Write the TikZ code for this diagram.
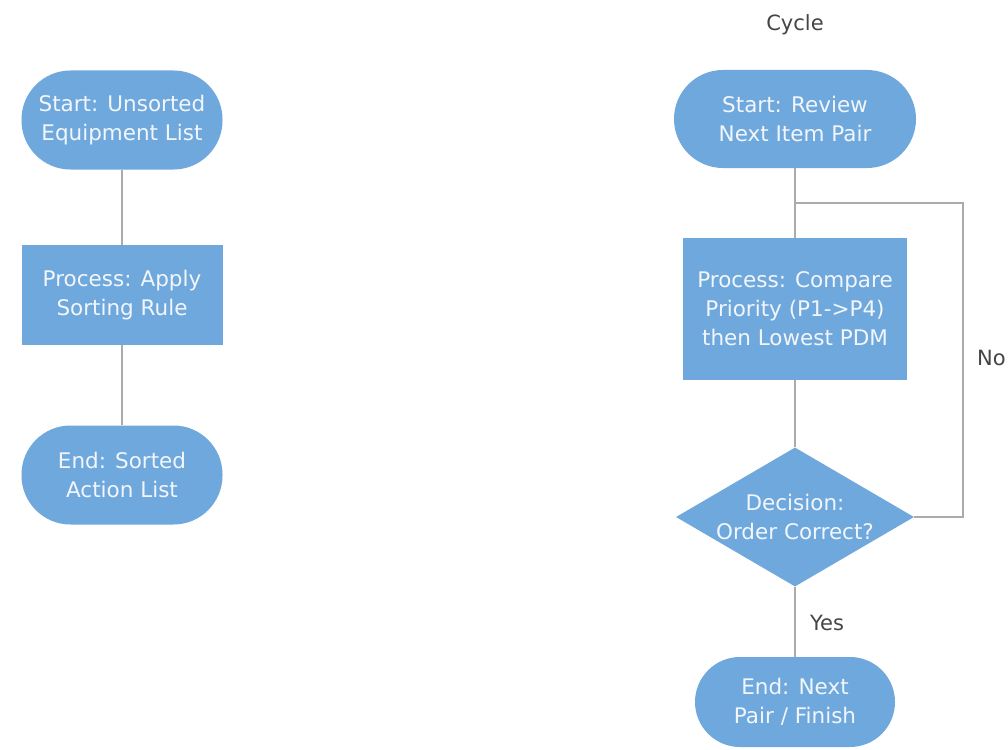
\documentclass[tikz,border=0pt]{standalone}
\usepackage{xcolor}
\usepackage{fontspec}
\setmainfont{DejaVu Sans}
\usepackage{tikz}
\usetikzlibrary{shapes.geometric}

\definecolor{boxblue}{HTML}{6FA8DC}
\definecolor{boxtext}{HTML}{F2F6FB}
\definecolor{linegray}{HTML}{ABABAB}
\definecolor{labelgray}{HTML}{454545}

\begin{document}
\begin{tikzpicture}[x=1pt,y=-1pt,
  shapebox/.style={fill=boxblue,draw=none,text=boxtext,align=center,inner sep=0pt,
    font=\fontsize{21.5}{29}\selectfont},
  termbox/.style={shapebox,rectangle,rounded corners=#1},
  procbox/.style={shapebox,rectangle},
  decbox/.style={shapebox,diamond,aspect=1.71},
  flowline/.style={draw=linegray,line width=1.5pt},
  plainlabel/.style={text=labelgray,font=\fontsize{21}{29}\selectfont,inner sep=0pt}]
\useasboundingbox[fill=white] (0,0) rectangle (1008,749);
% left column
\node[termbox=49pt,minimum width=201pt,minimum height=99pt] (lstart) at (122,120) {Start: Unsorted\\Equipment List};
\node[procbox,minimum width=201pt,minimum height=100pt] (lproc) at (122,295) {Process: Apply\\Sorting Rule};
\node[termbox=49pt,minimum width=201pt,minimum height=99pt] (lend) at (122,475) {End: Sorted\\Action List};
\draw[flowline] (lstart.south) -- (lproc.north);
\draw[flowline] (lproc.south) -- (lend.north);
% right column
\node[plainlabel] (cycle) at (795,25) {Cycle};
\node[termbox=49pt,minimum width=242pt,minimum height=98pt] (rstart) at (795,119) {Start: Review\\Next Item Pair};
\node[procbox,minimum width=224pt,minimum height=142pt] (rproc) at (795,309) {Process: Compare\\Priority (P1->P4)\\then Lowest PDM};
\node[decbox,minimum width=238pt,minimum height=139pt,inner sep=-9pt] (dec) at (795,517) {Decision:\\Order Correct?};
\node[termbox=45pt,minimum width=200pt,minimum height=90pt] (rend) at (795,702) {End: Next\\Pair / Finish};
\coordinate (loop) at (963,203);
\draw[flowline] (rstart.south) -- (rproc.north);
\draw[flowline] (rproc.south) -- (dec.north);
\draw[flowline] (dec.south) -- (rend.north);
\draw[flowline] (dec.east) -| (loop) -- (loop -| rproc.north);
\node[plainlabel] (yes) at (827,623) {Yes};
\node[plainlabel,anchor=west] (no) at (977,358) {No};
\end{tikzpicture}
\end{document}
